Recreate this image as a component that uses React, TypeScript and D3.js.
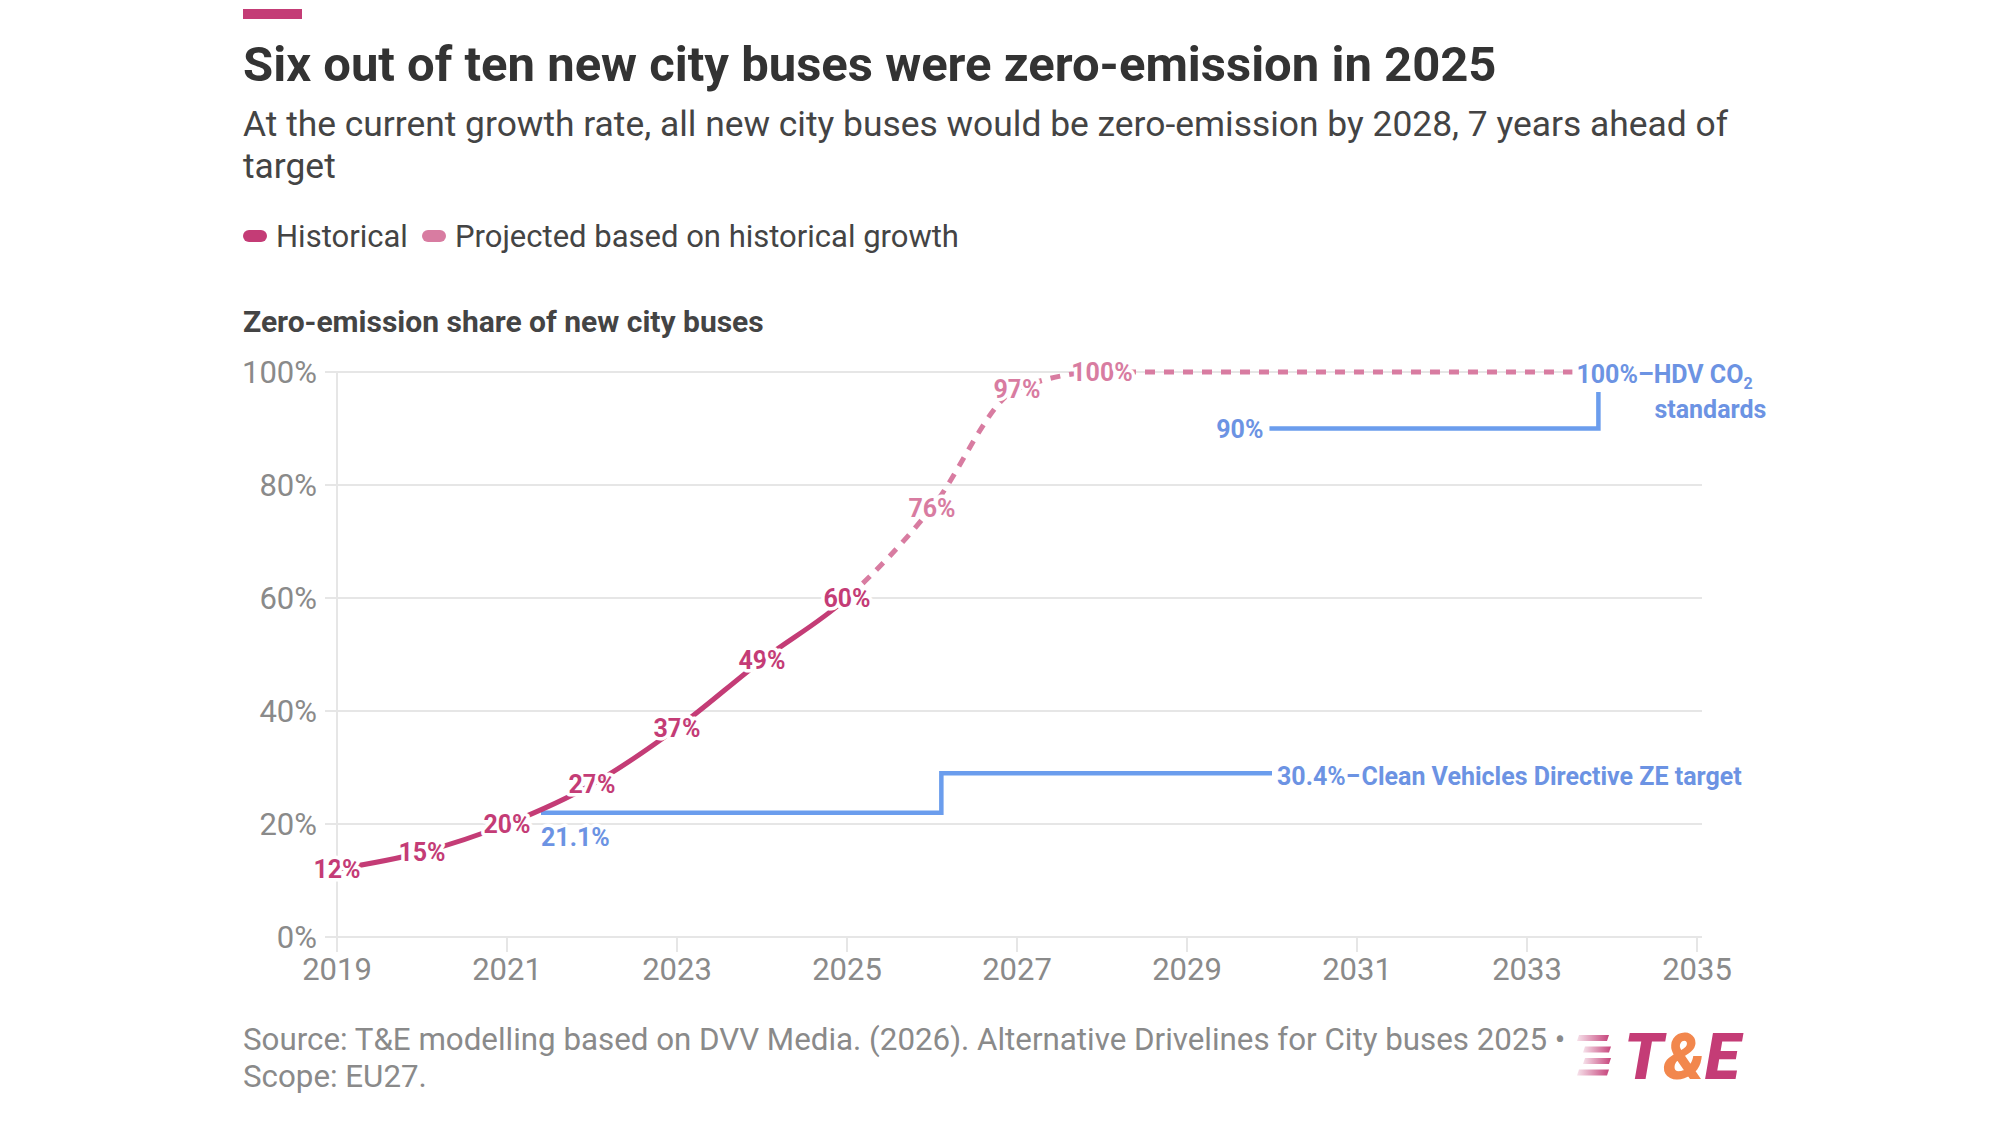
import React from "react";
import * as d3 from "d3";

// ---------- data ----------
const years = [2019, 2020, 2021, 2022, 2023, 2024, 2025, 2026, 2027, 2028, 2029, 2030, 2031, 2032, 2033, 2034, 2035];
const zeShare = [12, 15, 20, 27, 37, 49, 60, 76, 97, 100, 100, 100, 100, 100, 100, 100, 100];
const lastHistoricalYear = 2025;
const lastLabelledYear = 2028;

// Clean Vehicles Directive step target (step-after)
const cvdYears = [2021.4, 2026.11, 2030.0];
const cvdValues = [22, 29, 29];
// HDV CO2 standards step target (step-after)
const hdvYears = [2029.97, 2033.84];
const hdvValues = [90, 100];

const yTicks = [0, 20, 40, 60, 80, 100];
const xTicks = [2019, 2021, 2023, 2025, 2027, 2029, 2031, 2033, 2035];

const title = "Six out of ten new city buses were zero-emission in 2025";
const subtitleLines = [
  "At the current growth rate, all new city buses would be zero-emission by 2028, 7 years ahead of",
  "target",
];
const legendItems = ["Historical", "Projected based on historical growth"];
const axisTitle = "Zero-emission share of new city buses";
const footerLines = [
  "Source: T&E modelling based on DVV Media. (2026). Alternative Drivelines for City buses 2025 \u2022",
  "Scope: EU27.",
];

// ---------- styles ----------
const FONT = "Roboto, 'Noto Sans', sans-serif";
const C_HIST = "#c43c76";
const C_PROJ = "#d87ca1";
const C_BLUE_LINE = "#6b9ded";
const C_BLUE_TEXT = "#6c93e3";
const C_GRID = "#e6e6e6";
const C_AXIS_TEXT = "#8a8a8a";

export default function App() {
  const W = 2000;
  const H = 1125;
  const x = d3.scaleLinear().domain([2019, 2035]).range([337, 1697]);
  const y = d3.scaleLinear().domain([0, 100]).range([937, 372]);

  const pts = years.map((yr, i) => ({ yr, v: zeShare[i] }));
  const line = d3
    .line<{ yr: number; v: number }>()
    .x((d) => x(d.yr))
    .y((d) => y(d.v))
    .curve(d3.curveMonotoneX);
  const fullPath = line(pts) || "";

  const stepLine = d3
    .line<[number, number]>()
    .x((d) => x(d[0]))
    .y((d) => y(d[1]))
    .curve(d3.curveStepAfter);
  const cvdPath = stepLine(cvdYears.map((yr, i) => [yr, cvdValues[i]] as [number, number])) || "";
  const hdvPath = stepLine(hdvYears.map((yr, i) => [yr, hdvValues[i]] as [number, number])) || "";

  const splitX = x(lastHistoricalYear);
  const halo = {
    stroke: "#fff",
    strokeWidth: 7,
    paintOrder: "stroke" as const,
    strokeLinejoin: "round" as const,
  };

  const cvdEndX = x(cvdYears[cvdYears.length - 1]);
  const cvdStartX = x(cvdYears[0]);
  const hdvStartX = x(hdvYears[0]);
  const hdvStepX = x(hdvYears[hdvYears.length - 1]);

  return (
    <svg
      width={W}
      height={H}
      viewBox={`0 0 ${W} ${H}`}
      style={{ position: "absolute", left: 0, top: 0, background: "#fff", fontFamily: FONT }}
    >
      <defs>
        <clipPath id="histClip">
          <rect x={0} y={0} width={splitX} height={H} />
        </clipPath>
        <clipPath id="projClip">
          <rect x={splitX} y={0} width={W - splitX} height={H} />
        </clipPath>
        <linearGradient id="stripeGrad" x1="0" x2="1" y1="0" y2="0">
          <stop offset="0" stopColor={C_HIST} stopOpacity={0.15} />
          <stop offset="1" stopColor={C_HIST} stopOpacity={0.95} />
        </linearGradient>
      </defs>
      <rect x={0} y={0} width={W} height={H} fill="#fff" />

      {/* header */}
      <rect x={243} y={9} width={59} height={10} fill={C_HIST} />
      <text x={243} y={81} fontSize={49} fontWeight={700} fill="#333">
        {title}
      </text>
      {subtitleLines.map((s, i) => (
        <text key={i} x={243} y={136 + i * 42} fontSize={35.4} fill="#444">
          {s}
        </text>
      ))}

      {/* legend */}
      <rect x={243} y={230} width={24} height={12} rx={6} fill={C_HIST} />
      <text x={276} y={247} fontSize={31} fill="#444">
        {legendItems[0]}
      </text>
      <rect x={422} y={230} width={24} height={12} rx={6} fill={C_PROJ} />
      <text x={455} y={247} fontSize={31} fill="#444">
        {legendItems[1]}
      </text>

      <text x={243} y={332} fontSize={30} fontWeight={700} fill="#444">
        {axisTitle}
      </text>

      {/* grid */}
      {yTicks.map((t) => (
        <g key={t}>
          <line x1={325} x2={1702} y1={y(t)} y2={y(t)} stroke={C_GRID} strokeWidth={2} />
          <text x={317} y={y(t) + 11} textAnchor="end" fontSize={31} fill={C_AXIS_TEXT}>
            {t}%
          </text>
        </g>
      ))}
      <line x1={x(2019)} x2={x(2019)} y1={y(100)} y2={952} stroke={C_GRID} strokeWidth={2} />
      {xTicks.map((t) => (
        <g key={t}>
          <line x1={x(t)} x2={x(t)} y1={y(0)} y2={952} stroke={C_GRID} strokeWidth={2} />
          <text x={x(t)} y={980} textAnchor="middle" fontSize={31} fill={C_AXIS_TEXT}>
            {t}
          </text>
        </g>
      ))}

      {/* target lines */}
      <path d={cvdPath} fill="none" stroke={C_BLUE_LINE} strokeWidth={4.5} />
      <path d={hdvPath} fill="none" stroke={C_BLUE_LINE} strokeWidth={4.5} />

      {/* share line */}
      <path d={fullPath} fill="none" stroke={C_HIST} strokeWidth={5} clipPath="url(#histClip)" />
      <path
        d={fullPath}
        fill="none"
        stroke={C_PROJ}
        strokeWidth={5}
        strokeDasharray="10 9"
        clipPath="url(#projClip)"
      />

      {/* data labels */}
      {pts
        .filter((d) => d.yr <= lastLabelledYear)
        .map((d) => (
          <text
            key={d.yr}
            x={x(d.yr)}
            y={y(d.v) + 9}
            textAnchor="middle"
            fontSize={25}
            fontWeight={700}
            fill={d.yr <= lastHistoricalYear ? C_HIST : C_PROJ}
            {...halo}
          >
            {d.v}%
          </text>
        ))}

      {/* target annotations */}
      <text x={cvdStartX} y={y(cvdValues[0]) + 33} fontSize={25} fontWeight={700} fill={C_BLUE_TEXT} {...halo}>
        21.1%
      </text>
      <text x={cvdEndX + 5} y={y(cvdValues[1]) + 12} fontSize={25} fontWeight={700} fill={C_BLUE_TEXT} {...halo}>
        30.4%{"\u2013"}Clean Vehicles Directive ZE target
      </text>
      <text x={hdvStartX - 6} y={y(hdvValues[0]) + 9} textAnchor="end" fontSize={25} fontWeight={700} fill={C_BLUE_TEXT} {...halo}>
        90%
      </text>
      <rect x={hdvStepX - 26} y={356} width={192} height={36} fill="#fff" />
      <text x={hdvStepX - 22} y={y(100) + 11} fontSize={25} fontWeight={700} fill={C_BLUE_TEXT}>
        100%{"\u2013"}HDV CO
        <tspan fontSize={16} dy={6}>
          2
        </tspan>
      </text>
      <text x={hdvStepX + 56} y={y(100) + 46} fontSize={25} fontWeight={700} fill={C_BLUE_TEXT}>
        standards
      </text>

      {/* footer */}
      {footerLines.map((s, i) => (
        <text key={i} x={243} y={1050 + i * 37} fontSize={31.3} fill="#8a8a8a">
          {s}
        </text>
      ))}

      {/* logo */}
      <g>
        {[0, 1, 2, 3].map((i) => (
          <polygon
            key={i}
            points={`${1579 + (i === 1 || i === 2 ? 6 : 0)},${1035 + i * 11.5} ${1609 + (i === 1 || i === 2 ? 2 : 0)},${1035 + i * 11.5} ${1607 + (i === 1 || i === 2 ? 2 : 0)},${1041 + i * 11.5} ${1577 + (i === 1 || i === 2 ? 6 : 0)},${1041 + i * 11.5}`}
            fill="url(#stripeGrad)"
          />
        ))}
        <text x={1624} y={1079} fontSize={64} fontStyle="italic" fontWeight={900} fill={C_HIST}>
          T<tspan fill="#f2874d">&amp;</tspan>E
        </text>
      </g>
    </svg>
  );
}
